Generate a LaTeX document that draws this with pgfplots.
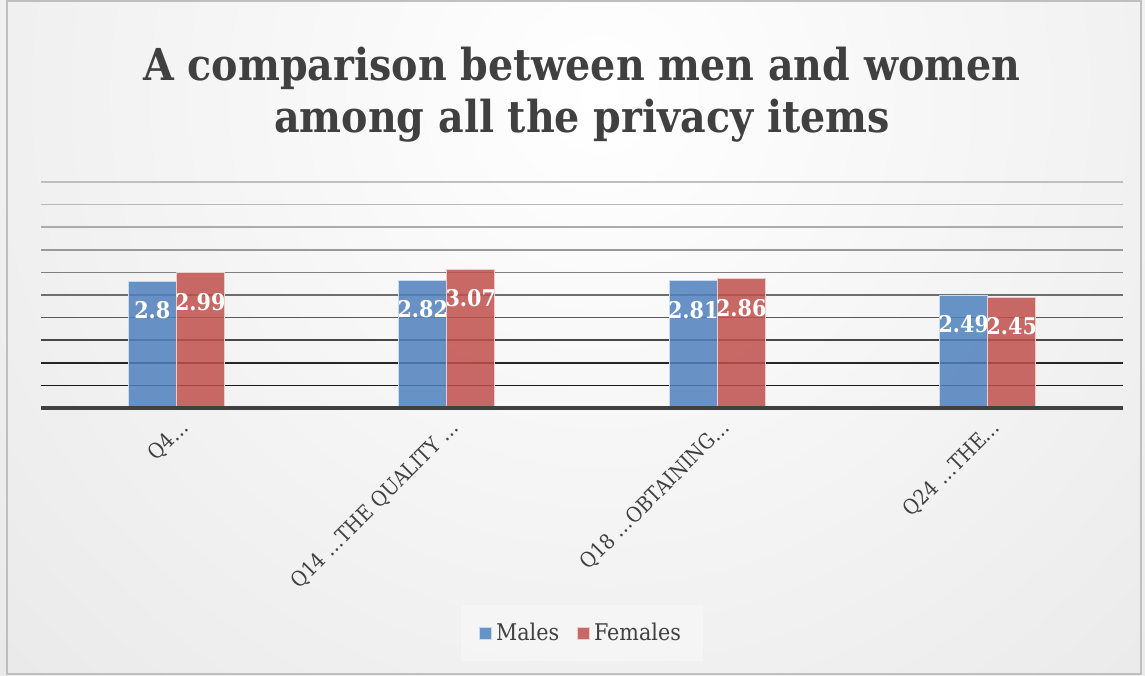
\documentclass[border=0pt]{standalone}
\usepackage{fontspec}
\setmainfont{DejaVu Serif Condensed}
\usepackage{pgfplots}
\pgfplotsset{compat=1.18}
\definecolor{malecol}{HTML}{4F81BD}
\definecolor{femcol}{HTML}{C0504D}
\definecolor{txtgray}{HTML}{404040}
\begin{document}
\begin{tikzpicture}[x=1pt,y=1pt]
\useasboundingbox (0,0) rectangle (572.5,337.5);
\begin{scope}
\clip (0,0) rectangle (572.5,337.5);
\shade[inner color=white, outer color=black!16] (300,290) circle (800);
\end{scope}
\draw[black!25, line width=0.8pt] (3.5,0.5) rectangle (570.5,337);
\node[anchor=base, font=\fontsize{22}{26}\selectfont\bfseries, text=txtgray, inner sep=0pt] at (291,297) {A comparison between men and women};
\node[anchor=base, font=\fontsize{22}{26}\selectfont\bfseries, text=txtgray, inner sep=0pt] at (291,271) {among all the privacy items};
\begin{axis}[
  at={(20.5pt,133.5pt)}, anchor=south west,
  scale only axis, width=541pt, height=113pt,
  xmin=-0.5, xmax=3.5, ymin=0, ymax=5,
  axis x line=bottom, axis y line=none,
  x axis line style={draw=none},
  xtick={0,1,2,3},
  xticklabels={Q4…, Q14 …THE QUALITY …, Q18 …OBTAINING…, Q24 …THE…},
  xtick style={draw=none},
  ytick=\empty,
  xticklabel style={rotate=45, anchor=east, font=\fontsize{10.5}{12}\selectfont, text=txtgray, xshift=4pt, yshift=-6pt},
  ybar=0pt, bar width=24pt,
  /pgf/number format/assume math mode=true,
  nodes near coords,
  nodes near coords style={font=\fontsize{11.5}{13}\selectfont\bfseries, text=white, text opacity=1, anchor=center, yshift=-14.5pt},
  legend style={at={(0.5,-0.996)}, anchor=center, fill=white, fill opacity=0.3, text opacity=1, draw=none,
    legend columns=2, font=\fontsize{11.5}{14}\selectfont, text=txtgray, inner xsep=9pt, inner ysep=7pt,
    /tikz/every even column/.append style={column sep=7pt}},
  legend image code/.code={\fill[#1] (0pt,-3pt) rectangle (6pt,3pt);},
  clip=false,
]
\draw[black!90, line width=0.8pt] (axis cs:-0.5,0.5) -- (axis cs:3.5,0.5);
\draw[black!85, line width=0.8pt] (axis cs:-0.5,1.0) -- (axis cs:3.5,1.0);
\draw[black!72, line width=0.8pt] (axis cs:-0.5,1.5) -- (axis cs:3.5,1.5);
\draw[black!65, line width=0.8pt] (axis cs:-0.5,2.0) -- (axis cs:3.5,2.0);
\draw[black!57, line width=0.8pt] (axis cs:-0.5,2.5) -- (axis cs:3.5,2.5);
\draw[black!50, line width=0.8pt] (axis cs:-0.5,3.0) -- (axis cs:3.5,3.0);
\draw[black!40, line width=0.8pt] (axis cs:-0.5,3.5) -- (axis cs:3.5,3.5);
\draw[black!33, line width=0.8pt] (axis cs:-0.5,4.0) -- (axis cs:3.5,4.0);
\draw[black!28, line width=0.8pt] (axis cs:-0.5,4.5) -- (axis cs:3.5,4.5);
\draw[black!25, line width=0.8pt] (axis cs:-0.5,5.0) -- (axis cs:3.5,5.0);
\addplot[fill=malecol, fill opacity=0.85, draw=white!70!malecol, line width=0.5pt] coordinates {(0,2.8) (1,2.82) (2,2.81) (3,2.49)};
\addplot[fill=femcol, fill opacity=0.85, draw=white!70!femcol, line width=0.5pt] coordinates {(0,2.99) (1,3.07) (2,2.86) (3,2.45)};
\legend{Males, Females}
\draw[txtgray, line width=2pt] (axis cs:-0.5,0) -- (axis cs:3.5,0);
\end{axis}
\end{tikzpicture}
\end{document}
